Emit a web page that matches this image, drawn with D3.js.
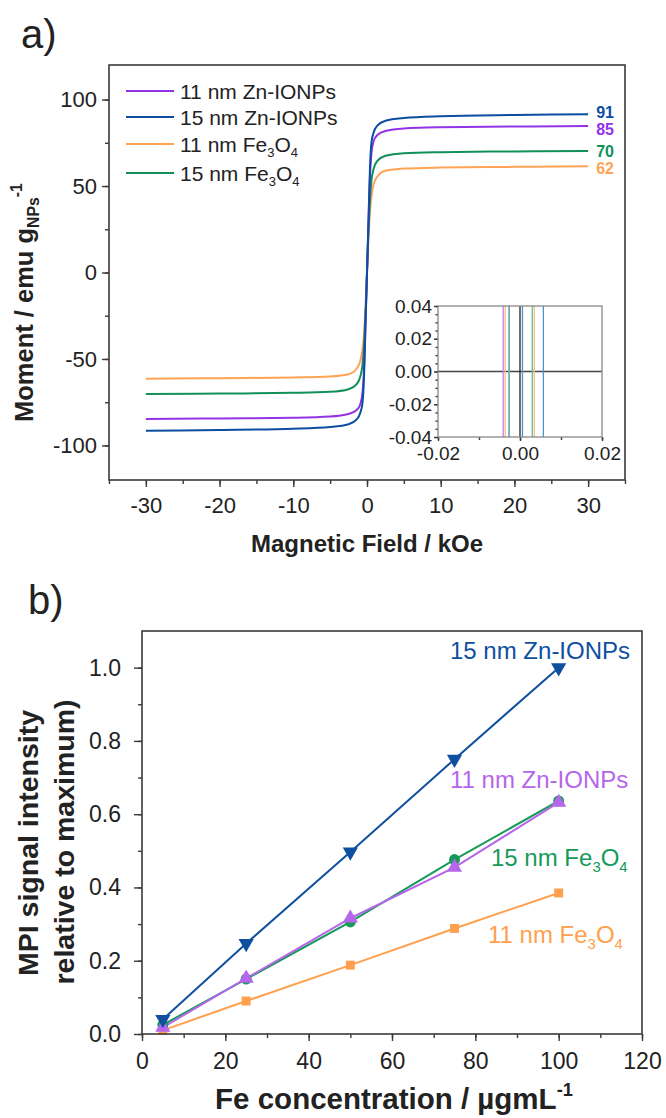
<!DOCTYPE html>
<html>
<head>
<meta charset="utf-8">
<title>Magnetization and MPI signal</title>
<script src="https://d3js.org/d3.v7.min.js"></script>
<style>
  body { margin: 0; background: #fff; }
  svg text { font-family: "Liberation Sans", Arial, sans-serif; fill: #222; }
  .frame { fill: none; stroke: #3a3a3a; stroke-width: 1.6; }
  .axis line { stroke: #3a3a3a; stroke-width: 1.4; }
  .axis path { display: none; }
  .title { font-weight: bold; }
</style>
</head>
<body>
<script>
// ---- panel a: magnetisation curves (kOe, emu/g) ----
var seriesNames = ["11 nm Zn-IONPs", "15 nm Zn-IONPs", "11 nm Fe3O4", "15 nm Fe3O4"];
var seriesColors = ["#9333e6", "#0b4ea2", "#ffa455", "#12905a"];
var satLabels = ["85", "91", "62", "70"];
var fieldKOe = [-30, -20, -10, -5, -2.5, -1.4, -0.9, -0.6, -0.4, -0.2, 0, 0.2, 0.4, 0.6, 0.9, 1.4, 2.5, 5, 10, 20, 30];
var momentZn11 = [-84.7, -84.4, -84, -83.3, -81.8, -79.5, -76, -69, -55, -28, 0, 28, 55, 69, 76, 79.5, 81.8, 83.3, 84, 84.4, 84.7];
var momentZn15 = [-91.5, -91.1, -90.4, -89.4, -87.8, -85, -81, -75, -60, -30, 0, 30, 60, 75, 81, 85, 87.8, 89.4, 90.4, 91.1, 91.5];
var momentFe11 = [-61.4, -61.1, -60.7, -60.1, -58.8, -55.5, -51, -44, -35, -20, 0, 20, 35, 44, 51, 55.5, 58.8, 60.1, 60.7, 61.1, 61.4];
var momentFe15 = [-70.2, -70, -69.6, -69, -67.5, -64.5, -60, -53, -42, -24, 0, 24, 42, 53, 60, 64.5, 67.5, 69, 69.6, 70, 70.2];
var moments = [momentZn11, momentZn15, momentFe11, momentFe15];

// inset: field values (kOe) where each branch crosses zero moment
var insetColors = ["#c27ef0", "#4b92d4", "#ffbb88", "#5cc08e"];
var crossZn11 = [-0.0041, -0.0027];
var crossZn15 = [0.0006, 0.0057];
var crossFe11 = [-0.0036, 0.0035];
var crossFe15 = [-0.0026, 0.0030];
var crossings = [crossZn11, crossZn15, crossFe11, crossFe15];

// ---- panel b: MPI signal ----
var concFe = [5, 25, 50, 75, 100];
var mpiZn15 = [0.04, 0.247, 0.497, 0.75, 1.0];
var mpiZn11 = [0.018, 0.152, 0.316, 0.455, 0.632];
var mpiFe15 = [0.025, 0.15, 0.306, 0.476, 0.636];
var mpiFe11 = [0.01, 0.09, 0.188, 0.288, 0.385];
var mpiColors = { zn15: "#0f4fa0", zn11: "#b566ea", fe15: "#169a5a", fe11: "#ffa04e" };

var svg = d3.select("body").append("svg")
    .attr("width", 666).attr("height", 1118);

function hyphen(fmt) {
  return function(d) { return fmt(d).replace("\u2212", "-"); };
}

// helper: text with sub/superscripts, parts = [[text, kind]]
function richText(sel, parts, size) {
  parts.forEach(function(p) {
    var t = sel.append("tspan").text(p[0]);
    if (p[1] === "sub") t.attr("font-size", size * 0.62).attr("dy", size * 0.25);
    else if (p[1] === "sup") t.attr("font-size", size * 0.62).attr("dy", -size * 0.45);
    else if (p[1] === "back") t.attr("dy", -size * 0.25);
  });
}
function feParts(prefix) {
  return [[prefix + "Fe"], ["3", "sub"], ["O", "back"], ["4", "sub"]];
}

// ================= panel a =================
var xA = d3.scaleLinear().domain([-35, 35]).range([109, 625]);
var yA = d3.scaleLinear().domain([-120, 120]).range([480, 65]);

svg.append("text").attr("x", 21).attr("y", 48).attr("font-size", 40).text("a)");

var gA = svg.append("g");

gA.append("g").attr("class", "axis").attr("transform", "translate(0,480)")
  .call(d3.axisBottom(xA).tickValues(d3.range(-35, 36, 5)).tickSize(4).tickFormat(""));
gA.append("g").attr("class", "axis").attr("transform", "translate(0,480)")
  .call(d3.axisBottom(xA).tickValues([-30, -20, -10, 0, 10, 20, 30]).tickSize(7).tickPadding(10)
    .tickFormat(hyphen(d3.format("d"))))
  .selectAll("text").attr("font-size", 22).attr("fill", "#222");
gA.append("g").attr("class", "axis").attr("transform", "translate(109,0)")
  .call(d3.axisLeft(yA).tickValues(d3.range(-100, 101, 25)).tickSize(4).tickFormat(""));
gA.append("g").attr("class", "axis").attr("transform", "translate(109,0)")
  .call(d3.axisLeft(yA).tickValues([-100, -50, 0, 50, 100]).tickSize(7).tickPadding(5)
    .tickFormat(hyphen(d3.format("d"))))
  .selectAll("text").attr("font-size", 22).attr("fill", "#222");

var lineA = d3.line().curve(d3.curveMonotoneX)
  .x(function(d) { return xA(d[0]); })
  .y(function(d) { return yA(d[1]); });

[2, 3, 0, 1].forEach(function(i) {
  var pts = fieldKOe.map(function(h, k) { return [h, moments[i][k]]; });
  gA.append("path").attr("d", lineA(pts))
    .attr("fill", "none").attr("stroke", seriesColors[i]).attr("stroke-width", 2);
});

// saturation labels
seriesNames.forEach(function(n, i) {
  var m = moments[i];
  var yy = yA(m[m.length - 1]);
  if (i === 0) yy += 3;
  if (i === 1) yy -= 2;
  if (i === 2) yy += 2;
  gA.append("text").attr("x", xA(30) + 8).attr("y", yy + 6)
    .attr("font-size", 16).attr("font-weight", "bold")
    .style("fill", seriesColors[i]).text(satLabels[i]);
});

// legend
var legY = [91, 117, 144, 173];
seriesNames.forEach(function(n, i) {
  gA.append("line").attr("x1", 126).attr("x2", 174).attr("y1", legY[i]).attr("y2", legY[i])
    .attr("stroke", seriesColors[i]).attr("stroke-width", 2);
  var t = gA.append("text").attr("x", 180).attr("y", legY[i] + 7.5).attr("font-size", 21);
  if (n.indexOf("Fe3O4") >= 0) richText(t, feParts(n.replace("Fe3O4", "")), 21);
  else t.text(n);
});

gA.append("rect").attr("class", "frame")
  .attr("x", 109).attr("y", 65).attr("width", 516).attr("height", 415);

// inset
var xI = d3.scaleLinear().domain([-0.02, 0.02]).range([438, 602]);
var yI = d3.scaleLinear().domain([-0.04, 0.04]).range([437, 306]);
var gI = svg.append("g");
gI.append("rect").attr("x", 438).attr("y", 306).attr("width", 164).attr("height", 131).attr("fill", "#fff");
gI.append("line").attr("x1", xI(-0.02)).attr("x2", xI(0.02)).attr("y1", yI(0)).attr("y2", yI(0))
  .attr("stroke", "#444").attr("stroke-width", 1.3);
gI.append("line").attr("x1", xI(0)).attr("x2", xI(0)).attr("y1", yI(0.04)).attr("y2", yI(-0.04))
  .attr("stroke", "#222").attr("stroke-width", 1.3);
crossings.forEach(function(c, i) {
  c.forEach(function(h) {
    gI.append("line").attr("x1", xI(h)).attr("x2", xI(h)).attr("y1", yI(0.04)).attr("y2", yI(-0.04))
      .attr("stroke", insetColors[i]).attr("stroke-width", 1.3);
  });
});
gI.append("g").attr("class", "axis").attr("transform", "translate(0,437)")
  .call(d3.axisBottom(xI).tickValues([-0.02, -0.01, 0, 0.01, 0.02]).tickSize(3).tickFormat(""));
gI.append("g").attr("class", "axis").attr("transform", "translate(0,437)")
  .call(d3.axisBottom(xI).tickValues([-0.02, 0, 0.02]).tickSize(4).tickPadding(6)
    .tickFormat(hyphen(d3.format(".2f"))))
  .selectAll("text").attr("font-size", 19).attr("fill", "#222");
gI.append("g").attr("class", "axis").attr("transform", "translate(438,0)")
  .call(d3.axisLeft(yI).tickValues(d3.range(-0.04, 0.0401, 0.005)).tickSize(2.5).tickFormat(""));
gI.append("g").attr("class", "axis").attr("transform", "translate(438,0)")
  .call(d3.axisLeft(yI).tickValues([-0.04, -0.02, 0, 0.02, 0.04]).tickSize(4).tickPadding(2)
    .tickFormat(hyphen(d3.format(".2f"))))
  .selectAll("text").attr("font-size", 19).attr("fill", "#222");
gI.selectAll(".axis line").attr("stroke", "#777").attr("stroke-width", 1);
gI.append("rect").attr("x", 438).attr("y", 306).attr("width", 164).attr("height", 131)
  .attr("fill", "none").attr("stroke", "#888").attr("stroke-width", 1.3);

// axis titles a
svg.append("text").attr("class", "title").attr("x", xA(0)).attr("y", 552)
  .attr("text-anchor", "middle").attr("font-size", 24).text("Magnetic Field / kOe");
var ta = svg.append("text").attr("class", "title").attr("font-size", 25.5)
  .attr("transform", "translate(33,422) rotate(-90)");
richText(ta, [["Moment / emu g"], ["NPs", "sub"], ["-1", "sup"]], 25.5);
ta.selectAll("tspan").filter(function(d, i) { return i === 2; }).attr("dy", -25.5 * 0.7);

// ================= panel b =================
var xB = d3.scaleLinear().domain([0, 120]).range([142, 642]);
var yB = d3.scaleLinear().domain([0, 1.1]).range([1034, 631]);

svg.append("text").attr("x", 28).attr("y", 614).attr("font-size", 40).text("b)");

var gB = svg.append("g");
gB.append("g").attr("class", "axis").attr("transform", "translate(0,1034)")
  .call(d3.axisBottom(xB).tickValues(d3.range(0, 121, 10)).tickSize(4).tickFormat(""));
gB.append("g").attr("class", "axis").attr("transform", "translate(0,1034)")
  .call(d3.axisBottom(xB).tickValues(d3.range(0, 121, 20)).tickSize(7).tickPadding(12))
  .selectAll("text").attr("font-size", 23).attr("fill", "#222");
gB.append("g").attr("class", "axis").attr("transform", "translate(142,0)")
  .call(d3.axisLeft(yB).tickValues(d3.range(0, 1.05, 0.1)).tickSize(4).tickFormat(""));
gB.append("g").attr("class", "axis").attr("transform", "translate(142,0)")
  .call(d3.axisLeft(yB).tickValues([0, 0.2, 0.4, 0.6, 0.8, 1.0]).tickSize(8).tickPadding(13).tickFormat(d3.format(".1f")))
  .selectAll("text").attr("font-size", 23).attr("fill", "#222");

var lineB = d3.line()
  .x(function(d) { return xB(d[0]); })
  .y(function(d) { return yB(d[1]); });

var mpiSeries = [
  { key: "fe11", vals: mpiFe11, sym: d3.symbolSquare, rot: 0, size: 80 },
  { key: "fe15", vals: mpiFe15, sym: d3.symbolCircle, rot: 0, size: 95 },
  { key: "zn11", vals: mpiZn11, sym: d3.symbolTriangle, rot: 0, size: 100 },
  { key: "zn15", vals: mpiZn15, sym: d3.symbolTriangle, rot: 180, size: 100 }
];
mpiSeries.forEach(function(s) {
  var pts = concFe.map(function(c, k) { return [c, s.vals[k]]; });
  gB.append("path").attr("d", lineB(pts)).attr("fill", "none")
    .attr("stroke", mpiColors[s.key]).attr("stroke-width", 2);
});
mpiSeries.forEach(function(s) {
  concFe.forEach(function(c, k) {
    gB.append("path").attr("d", d3.symbol().type(s.sym).size(s.size)())
      .attr("transform", "translate(" + xB(c) + "," + yB(s.vals[k]) + ") rotate(" + s.rot + ")")
      .attr("fill", mpiColors[s.key]);
  });
});

gB.append("rect").attr("class", "frame")
  .attr("x", 142).attr("y", 631).attr("width", 500).attr("height", 403);

// series labels b
gB.append("text").attr("x", 450).attr("y", 659).attr("font-size", 24)
  .style("fill", mpiColors.zn15).text("15 nm Zn-IONPs");
gB.append("text").attr("x", 450).attr("y", 788).attr("font-size", 24)
  .style("fill", mpiColors.zn11).text("11 nm Zn-IONPs");
richText(gB.append("text").attr("x", 491).attr("y", 866).attr("font-size", 24)
  .style("fill", mpiColors.fe15), feParts("15 nm "), 24);
richText(gB.append("text").attr("x", 488).attr("y", 943).attr("font-size", 24)
  .style("fill", mpiColors.fe11), feParts("11 nm "), 24);

// axis titles b
var tb = svg.append("text").attr("class", "title").attr("x", 394).attr("y", 1109)
  .attr("text-anchor", "middle").attr("font-size", 29.5);
richText(tb, [["Fe concentration / \u00b5gmL"], ["-1", "sup"]], 29.5);
svg.append("text").attr("class", "title").attr("font-size", 28.5).attr("text-anchor", "middle")
  .attr("transform", "translate(38,843) rotate(-90)").text("MPI signal intensity");
svg.append("text").attr("class", "title").attr("font-size", 28.5).attr("text-anchor", "middle")
  .attr("transform", "translate(74,842) rotate(-90)").text("relative to maximum)");
</script>
</body>
</html>
